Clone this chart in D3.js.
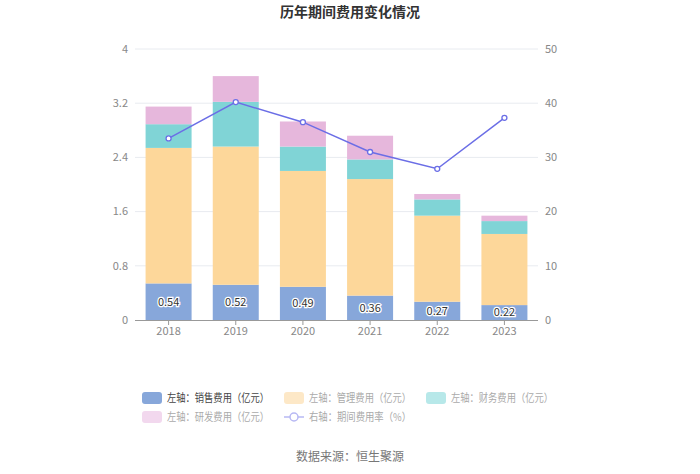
<!DOCTYPE html>
<html><head><meta charset="utf-8">
<script src="https://cdn.jsdelivr.net/npm/d3@7"></script>
<style>body{margin:0;background:#fff;}svg{display:block;font-family:"Noto Sans CJK SC","Noto Sans",sans-serif;}</style>
</head><body><svg id="c" width="700" height="474"></svg>
<script>
const years = ["2018","2019","2020","2021","2022","2023"];
const sales = [0.54,0.52,0.49,0.36,0.27,0.22];
const admin = [2.00,2.04,1.71,1.72,1.27,1.05];
const finance = [0.35,0.66,0.36,0.29,0.24,0.19];
const rnd = [0.26,0.38,0.37,0.35,0.08,0.08];
const rate = [33.5,40.2,36.5,31.0,27.9,37.3];
const leftTicks = [0,0.8,1.6,2.4,3.2,4];
const rightTicks = [0,10,20,30,40,50];
const seriesNames = ["左轴：销售费用（亿元）","左轴：管理费用（亿元）","左轴：财务费用（亿元）","左轴：研发费用（亿元）","右轴：期间费用率（%）"];
const colors = ["#87a7da","#fdd79a","#80d4d6","#e6b7dc"];
const legendColors = ["#87a7da","#fde8c7","#b7e8e9","#f2d8ee"];
const lineColor = "#6b6ee6";

const svg = d3.select("#c");
const L=135,R=538,T=49,B=320;
const xc = d3.scalePoint().domain(years).range([L,R]).padding(0.5);
const y = d3.scaleLinear().domain([0,4]).range([B,T]);
const y2 = d3.scaleLinear().domain([0,50]).range([B,T]);

svg.append("text").attr("x",350).attr("y",17).attr("text-anchor","middle")
  .attr("font-size",14).attr("font-weight","bold").attr("fill","#333").text("历年期间费用变化情况");

// grid
svg.append("g").selectAll("line").data(leftTicks.slice(1)).join("line")
  .attr("x1",L).attr("x2",R).attr("y1",d=>y(d)).attr("y2",d=>y(d))
  .attr("stroke","#e8ebf0").attr("stroke-width",1);

// axis labels
svg.append("g").selectAll("text").data(leftTicks).join("text")
  .attr("x",128).attr("y",d=>y(d)).attr("dy","0.35em").attr("text-anchor","end")
  .attr("font-size",11).attr("fill","#888").text(d=>d);
svg.append("g").selectAll("text").data(rightTicks).join("text")
  .attr("x",545).attr("y",d=>y2(d)).attr("dy","0.35em").attr("text-anchor","start")
  .attr("font-size",11).attr("fill","#888").text(d=>d);

// stacked bars
const rows = years.map((yr,i)=>({year:yr,s:sales[i],a:admin[i],f:finance[i],r:rnd[i]}));
const stack = d3.stack().keys(["s","a","f","r"])(rows);
const bw = 46;
svg.append("g").selectAll("g").data(stack).join("g").attr("fill",(d,i)=>colors[i])
  .selectAll("rect").data(d=>d).join("rect")
  .attr("x",d=>xc(d.data.year)-bw/2).attr("width",bw)
  .attr("y",d=>y(d[1])).attr("height",d=>y(d[0])-y(d[1]));

// bar labels for sales
svg.append("g").selectAll("text").data(rows).join("text")
  .attr("x",d=>xc(d.year)).attr("y",d=>(y(0)+y(d.s))/2).attr("dy","0.35em")
  .attr("text-anchor","middle").attr("font-size",11).attr("fill","#333")
  .attr("stroke","#fff").attr("stroke-width",2.5).attr("paint-order","stroke")
  .text(d=>d.s.toFixed(2));

// x axis
svg.append("line").attr("x1",L).attr("x2",R).attr("y1",B+0.5).attr("y2",B+0.5).attr("stroke","#999");
svg.append("g").selectAll("line").data(years).join("line")
  .attr("x1",d=>xc(d)).attr("x2",d=>xc(d)).attr("y1",B).attr("y2",B+5).attr("stroke","#999");
svg.append("g").selectAll("text").data(years).join("text")
  .attr("x",d=>xc(d)).attr("y",B+15).attr("text-anchor","middle")
  .attr("font-size",11).attr("fill","#888").text(d=>d);

// line
const line = d3.line().x((d,i)=>xc(years[i])).y(d=>y2(d));
svg.append("path").datum(rate).attr("d",line).attr("fill","none").attr("stroke",lineColor).attr("stroke-width",1.5);
svg.append("g").selectAll("circle").data(rate).join("circle")
  .attr("cx",(d,i)=>xc(years[i])).attr("cy",d=>y2(d)).attr("r",2.5)
  .attr("fill","#fff").attr("stroke",lineColor).attr("stroke-width",1.3);

// legend
const legPos = [[142,398],[284,398],[426,398],[142,417],[284,417]];
const lg = svg.append("g");
seriesNames.forEach((n,i)=>{
  const [lx,ly]=legPos[i];
  if(i<4){
    lg.append("rect").attr("x",lx).attr("y",ly-6).attr("width",20).attr("height",12).attr("rx",3).attr("fill",legendColors[i]);
  } else {
    lg.append("line").attr("x1",lx).attr("x2",lx+20).attr("y1",ly).attr("y2",ly).attr("stroke","#b7b8f3").attr("stroke-width",1.5);
    lg.append("circle").attr("cx",lx+10).attr("cy",ly).attr("r",4).attr("fill","#fff").attr("stroke","#b7b8f3").attr("stroke-width",1.5);
  }
  lg.append("text").attr("x",lx+25).attr("y",ly).attr("dy","0.35em").attr("font-size",11)
    .attr("textLength",102).attr("lengthAdjust","spacingAndGlyphs")
    .attr("fill",i===0?"#444":"#aaa").text(n);
});

svg.append("text").attr("x",350).attr("y",461).attr("text-anchor","middle")
  .attr("font-size",12).attr("fill","#777").text("数据来源：恒生聚源");
</script></body></html>
